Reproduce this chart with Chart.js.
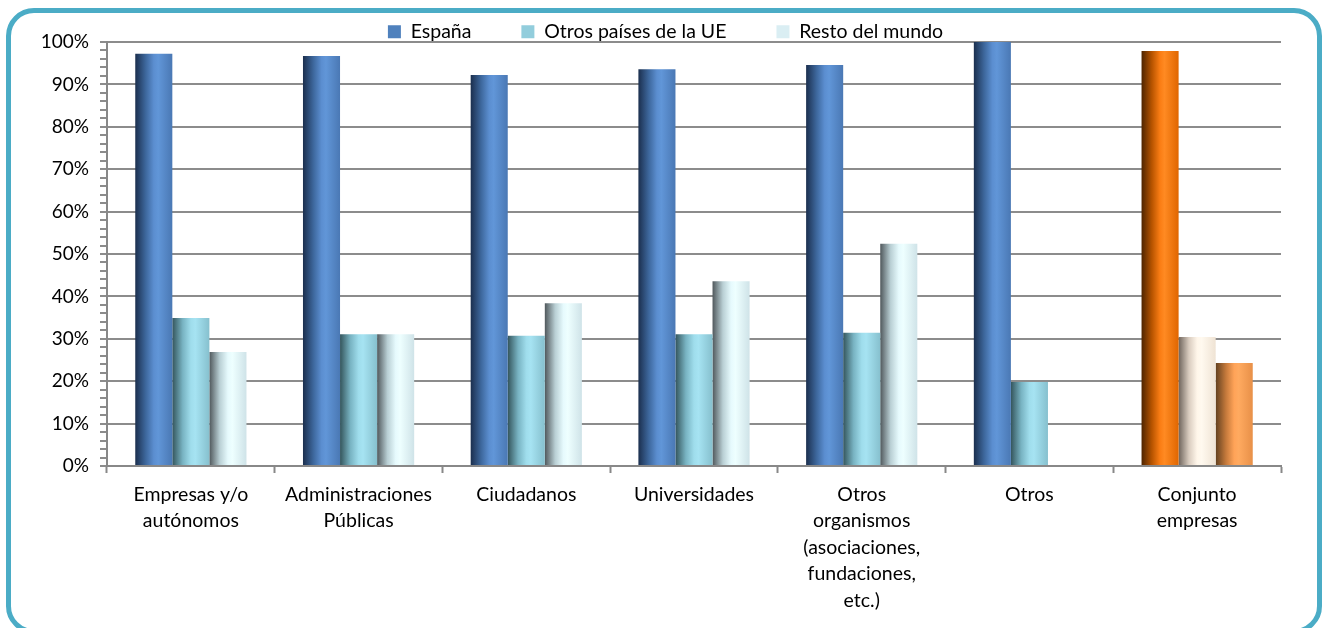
<!DOCTYPE html>
<html>
<head>
<meta charset="utf-8">
<script src="https://cdn.jsdelivr.net/npm/chart.js@4.4.1/dist/chart.umd.min.js"></script>
<style>
  html, body { margin: 0; padding: 0; background: #fff; }
  #wrap { position: relative; width: 1327px; height: 628px; overflow: hidden; }
  #frame {
    position: absolute; left: 6px; top: 8px; width: 1306px; height: 616px;
    border: 5px solid #4BACC6; border-radius: 28px; box-sizing: content-box;
  }
  #c { position: absolute; left: 0; top: 0; }
</style>
</head>
<body>
<div id="wrap">
  <div id="frame"></div>
  <canvas id="c" width="1327" height="628"></canvas>
</div>
<script>
// Destination of the activity by client type (share of respondents, %)
const categories = [
  ['Empresas y/o', 'autónomos'],
  ['Administraciones', 'Públicas'],
  'Ciudadanos',
  'Universidades',
  ['Otros', 'organismos', '(asociaciones,', 'fundaciones,', 'etc.)'],
  'Otros',
  ['Conjunto', 'empresas']
];
const seriesNames = ['España', 'Otros países de la UE', 'Resto del mundo'];
const espana = [97.2, 96.7, 92.2, 93.6, 94.6, 100, 97.9];
const otrosUE = [34.9, 31.1, 30.7, 31.1, 31.4, 19.8, 30.4];
const restoMundo = [26.9, 31.1, 38.4, 43.6, 52.4, null, 24.3];

// Flat colours used in the legend
const legendColors = ['#4F81BD', '#92CDDC', '#DAEEF3'];

// Horizontal shading stops for each series (blue set) and the highlighted total group (orange set)
const shadeBlue = [
  ['#1B2F4E', '#3D679C', '#5B8ED0', '#6196D8', '#4A78B4'],
  ['#34555C', '#78B3C2', '#9FDDEC', '#A6E3F2', '#86C0CE'],
  ['#50585C', '#B9CFD4', '#E6FAFD', '#EEFFFF', '#CFE3E8']
];
const shadeOrange = [
  ['#4E2400', '#B75400', '#FA7D14', '#FF8A22', '#E06600'],
  ['#6E645C', '#D9CCBF', '#FFF6EA', '#FFF9EF', '#EFE3D4'],
  ['#62401F', '#C57A3C', '#FFA358', '#FFAA60', '#E89048']
];
const highlightIndex = 6;

// Paint every bar with a left-to-right gradient computed from its own position
const barShading = {
  id: 'barShading',
  beforeDatasetsDraw(chart) {
    const ctx = chart.ctx;
    chart.data.datasets.forEach((ds, di) => {
      const meta = chart.getDatasetMeta(di);
      meta.data.forEach((el, i) => {
        const x0 = el.x - el.width / 2, x1 = el.x + el.width / 2;
        const g = ctx.createLinearGradient(x0, 0, x1, 0);
        const stops = (i === highlightIndex ? shadeOrange : shadeBlue)[di];
        const pos = [0, 0.28, 0.5, 0.62, 1];
        stops.forEach((c, k) => g.addColorStop(pos[k], c));
        el.options.backgroundColor = g;
      });
    });
  }
};

// Wide gaps between legend entries while keeping the legend band short
const LEGEND_GAP = 50;
const LEGEND_BAND = 28;
const legendLayout = {
  id: 'legendLayout',
  beforeLayout(chart) {
    const lg = chart.legend;
    if (lg && !lg._bandFit) {
      const fit = lg.fit;
      lg.fit = function () { fit.call(this); this.height = LEGEND_BAND; };
      lg._bandFit = true;
    }
  },
  afterLayout(chart) {
    const lg = chart.legend;
    lg.top = 22 - LEGEND_GAP;
    lg.left += 15;
    lg.right += 15;
  }
};

const FONT = 'Lato, "Open Sans", sans-serif';

new Chart(document.getElementById('c'), {
  type: 'bar',
  data: {
    labels: categories,
    datasets: [
      { label: seriesNames[0], data: espana },
      { label: seriesNames[1], data: otrosUE },
      { label: seriesNames[2], data: restoMundo }
    ].map((d, i) => Object.assign(d, {
      backgroundColor: () => legendColors[i],
      borderWidth: 0,
      categoryPercentage: 0.663,
      barPercentage: 1.0
    }))
  },
  options: {
    responsive: false,
    animation: false,
    layout: { padding: { left: 20, right: 46, top: 14, bottom: 6 } },
    plugins: {
      tooltip: { enabled: false },
      legend: {
        position: 'top',
        align: 'center',
        labels: {
          color: '#000',
          font: { family: FONT, size: 19.5 },
          boxWidth: 13,
          boxHeight: 13,
          padding: LEGEND_GAP,
          generateLabels: () => seriesNames.map((n, i) => ({
            text: n, fillStyle: legendColors[i], strokeStyle: legendColors[i],
            lineWidth: 0, datasetIndex: i, hidden: false
          }))
        }
      }
    },
    scales: {
      x: {
        grid: {
          display: true, drawOnChartArea: false, drawTicks: true,
          tickLength: 7, tickColor: '#888', tickWidth: 2, offset: true
        },
        border: { display: true, color: '#888', width: 2 },
        ticks: {
          color: '#000', font: { family: FONT, size: 19.5, lineHeight: 1.36 },
          padding: 8, maxRotation: 0, autoSkip: false
        },
        afterFit(scale) { scale.height = 628 - 466 - 6; }
      },
      y: {
        min: 0, max: 100,
        ticks: {
          stepSize: 2, autoSkip: false,
          color: '#000', font: { family: FONT, size: 19 },
          padding: 11,
          callback: v => (v % 10 === 0 ? v + '%' : '')
        },
        grid: {
          color: ctx => (ctx.tick && ctx.tick.value % 10 === 0 ? '#8C8C8C' : 'rgba(0,0,0,0)'),
          lineWidth: 2,
          tickColor: '#8C8C8C',
          tickWidth: 2,
          tickLength: 7,
          drawTicks: true
        },
        border: { display: true, color: '#888', width: 2 },
        afterFit(scale) { scale.width = 107 - 20; }
      }
    }
  },
  plugins: [barShading, legendLayout]
});
</script>
</body>
</html>
